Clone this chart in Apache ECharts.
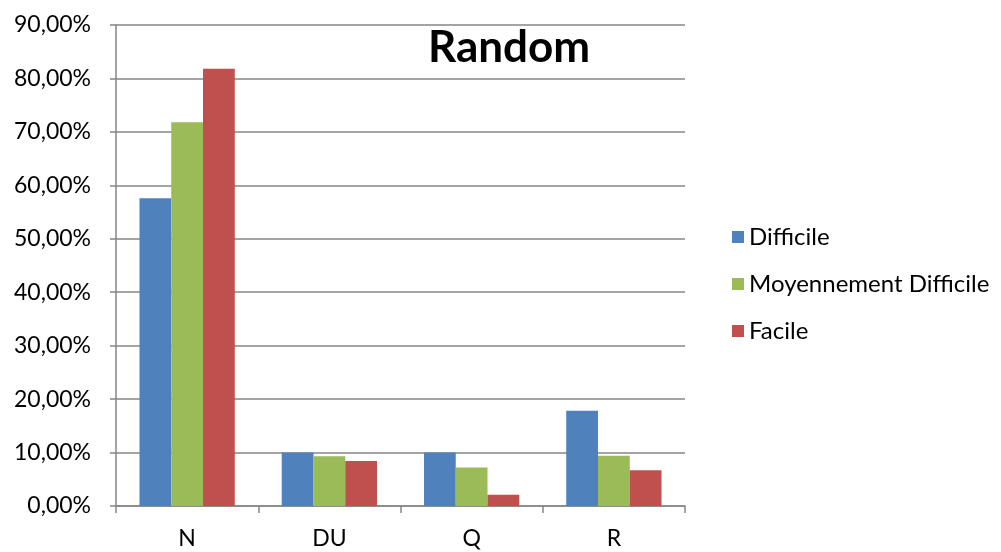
<!DOCTYPE html>
<html>
<head>
<meta charset="utf-8">
<script src="https://cdn.jsdelivr.net/npm/echarts@6/dist/echarts.min.js"></script>
<style>
  html, body { margin: 0; padding: 0; background: #fff; }
  #chart { width: 1001px; height: 552px; }
</style>
</head>
<body>
<div id="chart"></div>
<script>
// categories and values (in %)
const categories = ["N", "DU", "Q", "R"];
const difficile = [57.6, 10.0, 10.0, 17.8];
const moyennement = [71.8, 9.3, 7.2, 9.4];
const facile = [81.8, 8.4, 2.1, 6.7];
const seriesNames = ["Difficile", "Moyennement Difficile", "Facile"];

const myChart = echarts.init(document.getElementById("chart"));
const font = "Lato, 'Open Sans', sans-serif";

const option = {
  animation: false,
  color: ["#4F81BD", "#9BBB59", "#C0504D"],
  textStyle: { fontFamily: font },
  title: {
    text: "Random",
    left: 423,
    top: 21,
    textStyle: { fontSize: 44, fontWeight: "bold", color: "#000", fontFamily: font }
  },
  legend: {
    orient: "vertical",
    left: 727,
    top: 220,
    itemGap: 23,
    itemWidth: 12,
    itemHeight: 12,
    icon: "rect",
    textStyle: { fontSize: 24, color: "#000", fontFamily: font },
    data: seriesNames
  },
  grid: { left: 116, right: 316, top: 25, bottom: 46 },
  xAxis: {
    type: "category",
    data: categories,
    axisLine: { lineStyle: { color: "#868686", width: 1.5 } },
    axisTick: { show: true, length: 7, lineStyle: { color: "#868686", width: 1.5 } },
    axisLabel: { fontSize: 23, color: "#000", margin: 21, fontFamily: font }
  },
  yAxis: {
    type: "value",
    min: 0,
    max: 90,
    interval: 10,
    axisLine: { show: true, lineStyle: { color: "#868686", width: 1.5 } },
    axisTick: { show: true, length: 6, lineStyle: { color: "#868686", width: 1.5 } },
    splitLine: { lineStyle: { color: "#868686", width: 1.5 } },
    axisLabel: {
      fontSize: 23,
      color: "#000",
      margin: 25,
      fontFamily: font,
      formatter: v => v.toFixed(2).replace(".", ",") + "%"
    }
  },
  series: [
    { name: seriesNames[0], type: "bar", data: difficile, barGap: "0%", barCategoryGap: "33%" },
    { name: seriesNames[1], type: "bar", data: moyennement, barGap: "0%", barCategoryGap: "33%" },
    { name: seriesNames[2], type: "bar", data: facile, barGap: "0%", barCategoryGap: "33%" }
  ]
};
myChart.setOption(option);
window.addEventListener("resize", function () {
  myChart.resize();
});
</script>
</body>
</html>
